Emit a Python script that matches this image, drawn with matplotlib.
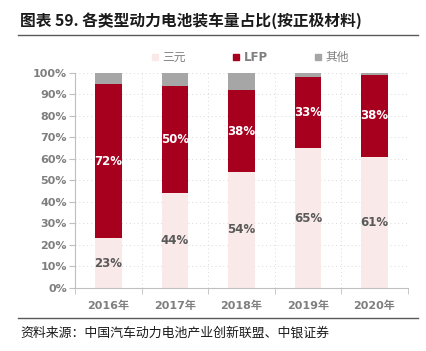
import numpy as np
import matplotlib
matplotlib.use("Agg")
import matplotlib.pyplot as plt
from matplotlib.lines import Line2D

plt.rcParams['font.family'] = ['Noto Sans CJK SC', 'DejaVu Sans']

years = ['2016年', '2017年', '2018年', '2019年', '2020年']
ncm = [23, 44, 54, 65, 61]
lfp = [72, 50, 38, 33, 38]
other = [5, 6, 8, 2, 1]
series_names = ['三元', 'LFP', '其他']

c_ncm = '#F9E9E9'
c_lfp = '#A6001E'
c_oth = '#A6A6A6'
grey = '#7F7F7F'
latin = ['DejaVu Sans', 'Noto Sans CJK SC']

fig = plt.figure(figsize=(4.27, 3.51), dpi=100)
ax = fig.add_axes([0.176, 0.18, 0.779, 0.612])

x = np.arange(len(years))
ncm_a = np.array(ncm)
lfp_a = np.array(lfp)
oth_a = np.array(other)
w = 0.4
ax.bar(x, ncm_a, w, color=c_ncm, label=series_names[0], zorder=2)
ax.bar(x, lfp_a, w, bottom=ncm_a, color=c_lfp, label=series_names[1], zorder=2)
ax.bar(x, oth_a, w, bottom=ncm_a + lfp_a, color=c_oth, label=series_names[2], zorder=2)

for i in range(len(years)):
    ax.text(x[i], ncm_a[i] / 2, f'{ncm[i]}%', ha='center', va='center',
            fontsize=8.5, fontweight='bold', color='#595959', family=latin, zorder=3)
    ax.text(x[i], ncm_a[i] + lfp_a[i] / 2, f'{lfp[i]}%', ha='center', va='center',
            fontsize=8.5, fontweight='bold', color='white', family=latin, zorder=3)

ax.set_xlim(-0.5, len(years) - 0.5)
ax.set_ylim(0, 100)
ax.set_yticks(np.arange(0, 101, 10))
ax.set_yticklabels([f'{v}%' for v in range(0, 101, 10)])
ax.set_xticks(x)
ax.set_xticklabels(years)
ax.set_xticks(np.arange(-0.5, len(years)), minor=True)
ax.tick_params(axis='x', which='major', length=0, pad=9)
ax.tick_params(axis='x', which='minor', length=4, color='#BFBFBF', direction='out')
ax.tick_params(axis='y', length=4, color='#BFBFBF', pad=2)
for lab in ax.get_xticklabels() + ax.get_yticklabels():
    lab.set_fontweight('bold')
    lab.set_color(grey)
    lab.set_fontsize(8)
    lab.set_family(latin)

ax.grid(True, axis='y', linestyle=(0, (1, 3)), color='#D9D9D9', linewidth=0.7, zorder=0)
ax.grid(True, axis='x', which='minor', linestyle=(0, (1, 3)), color='#D9D9D9', linewidth=0.7, zorder=0)
for s in ['top', 'right']:
    ax.spines[s].set_visible(False)
ax.spines['left'].set_color('#BFBFBF')
ax.spines['bottom'].set_color('#BFBFBF')

handles = [Line2D([], [], marker='s', linestyle='', markersize=4.5, color=c)
           for c in [c_ncm, c_lfp, c_oth]]
leg = fig.legend(handles, series_names, loc='center', bbox_to_anchor=(0.585, 0.837), ncol=3,
                 frameon=False, fontsize=8.5, handletextpad=0.3, handlelength=0.7,
                 columnspacing=3.9)
for t in leg.get_texts():
    t.set_color(grey)
leg.get_texts()[1].set_fontweight('bold')
leg.get_texts()[1].set_family(latin)

fig.text(0.047, 0.94, '图表 59. 各类型动力电池装车量占比(按正极材料)', fontsize=11.3,
         fontweight='bold', ha='left', va='center', color='#1a1a1a')
fig.add_artist(Line2D([0.042, 0.98], [0.9, 0.9], color='#595959', linewidth=1))
fig.add_artist(Line2D([0.042, 0.98], [0.093, 0.093], color='#595959', linewidth=1))
fig.text(0.047, 0.052, '资料来源：中国汽车动力电池产业创新联盟、中银证券', fontsize=9.3,
         style='italic', ha='left', va='center', color='#1a1a1a')

fig.savefig('out.png', dpi=100)
